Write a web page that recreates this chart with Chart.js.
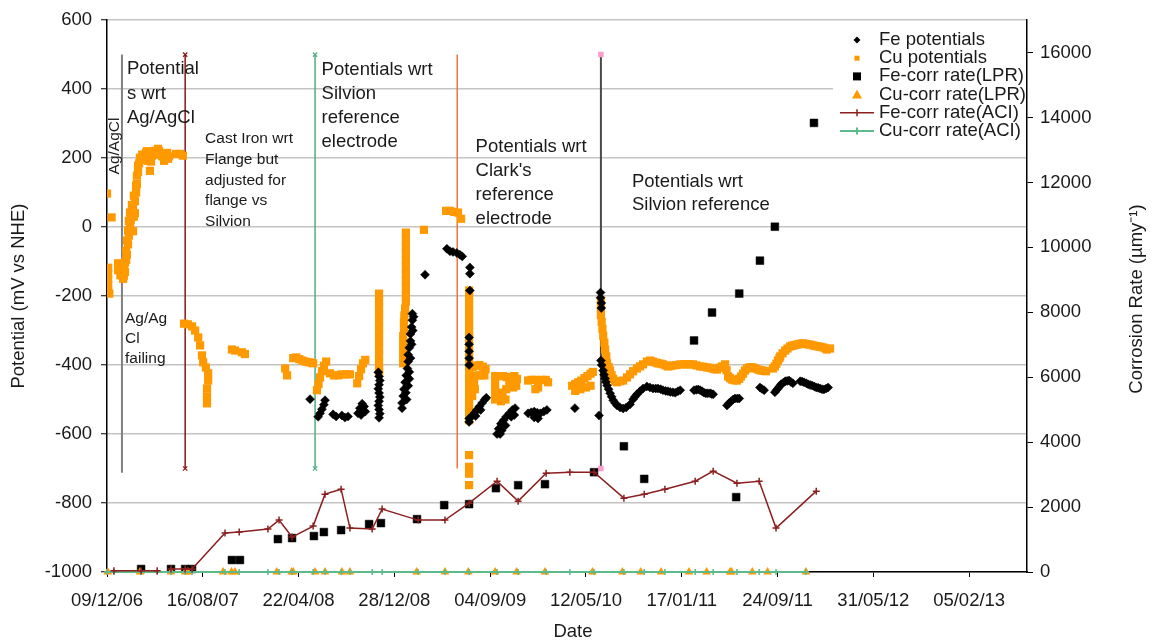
<!DOCTYPE html>
<html>
<head>
<meta charset="utf-8">
<title>Potentials and corrosion rates</title>
<script src="https://cdn.jsdelivr.net/npm/chart.js@4.4.0/dist/chart.umd.min.js"></script>
<style>
  html, body { margin: 0; padding: 0; background: #fff; }
  #wrap { width: 1155px; height: 644px; }
</style>
</head>
<body>
<div id="wrap"><canvas id="myChart" width="1155" height="644"></canvas></div>
<script>
// dia 0 = 09/12/2006, todos los valores x son dias desde esa fecha
const startDate = Date.UTC(2006, 11, 9);
const xTickDays = [0, 250, 500, 750, 1000, 1250, 1500, 1750, 2000, 2250];
const rightTicks = [0, 2000, 4000, 6000, 8000, 10000, 12000, 14000, 16000];

// Fe potentials (mV vs NHE)
const fePotential = [
  [530, -499],
  [569, -502], [566, -515], [561, -528], [556, -540], [551, -550],
  [590, -543], [598, -549], [613, -546], [621, -552], [629, -549],
  [655, -540], [660, -525], [666, -512], [671, -520], [674, -535], [663, -545],
  [708, -421], [710, -433], [712, -445], [710, -457], [708, -469], [710, -481], [712, -493],
  [710, -505], [708, -517], [710, -529], [712, -541], [710, -553],
  [797, -251], [797, -270], [795, -290], [792, -310], [792, -330], [789, -350], [786, -370], [786, -390],
  [784, -410], [781, -430], [778, -450], [775, -470], [773, -490], [770, -510], [770, -525],
  [800, -260], [798, -300], [795, -340], [792, -380], [789, -420], [786, -460], [782, -500],
  [780, -480], [784, -460], [789, -440],
  [830, -138],
  [887, -63], [895, -70], [903, -72], [913, -75], [921, -80], [927, -85],
  [947, -117], [947, -135], [947, -184], [945, -320], [945, -340], [945, -360], [945, -380], [945, -400],
  [951, -550], [958, -540], [965, -530], [972, -520], [979, -510], [986, -500], [990, -495],
  [962, -548], [975, -530], [945, -555], [945, -565],
  [1065, -525], [1058, -530], [1050, -540], [1042, -550], [1035, -560], [1028, -570], [1022, -585],
  [1018, -600], [1026, -600], [1040, -575], [1055, -550], [1030, -590], [1063, -545],
  [1099, -540], [1107, -537], [1115, -535], [1123, -538], [1131, -540], [1140, -535], [1148, -530],
  [1115, -552], [1125, -555],
  [1221, -525], [1284, -546],
  [1288, -190], [1288, -205], [1290, -220], [1290, -235],
  [1289, -387], [1291, -400], [1295, -416], [1297, -428], [1300, -439], [1302, -449], [1305, -459],
  [1309, -470], [1313, -482], [1317, -492], [1321, -502], [1326, -510], [1331, -517], [1339, -523],
  [1347, -526], [1355, -523], [1365, -514], [1373, -499], [1378, -492], [1383, -485], [1391, -476],
  [1399, -468], [1409, -462], [1417, -465], [1425, -468], [1432, -468], [1438, -468], [1445, -470],
  [1451, -473], [1458, -475], [1464, -476], [1470, -478], [1477, -479], [1483, -480], [1490, -476],
  [1496, -473],
  [1532, -473], [1538, -472], [1543, -471], [1548, -473], [1553, -476], [1558, -480], [1563, -482],
  [1568, -482], [1574, -482], [1578, -484], [1582, -485],
  [1618, -517], [1623, -511], [1629, -505], [1634, -500], [1639, -497], [1645, -497], [1650, -497],
  [1704, -465], [1709, -469], [1715, -473],
  [1743, -479], [1747, -473], [1751, -468], [1755, -462], [1759, -456], [1765, -451], [1770, -447],
  [1775, -446], [1780, -445], [1785, -449], [1790, -453],
  [1809, -447], [1814, -448], [1819, -450], [1825, -453], [1830, -456], [1835, -458], [1840, -459],
  [1846, -462], [1851, -465], [1856, -466], [1861, -468], [1866, -470], [1871, -471], [1877, -468],
  [1882, -465]
];

// Cu potentials (mV vs NHE)
const cuPotential = [
  [0, 97], [12, 28],
  [3, -118], [3, -135], [3, -152], [3, -168], [3, -184], [6, -193],
  [29, -105], [29, -125], [35, -140], [42, -150], [44, -141], [44, -120], [47, -130],
  [47, -103], [50, -68], [50, -95], [52, -39], [52, -80], [55, -10], [55, -50], [57, 18], [57, -25],
  [60, 42], [60, -5], [62, 20], [65, 64], [65, 45], [68, 60], [70, 91], [70, 30], [73, 75],
  [76, 120], [76, 100], [78, 149], [78, 125], [81, 178], [81, 160], [84, 185], [86, 201], [88, 195],
  [92, 210], [94, 201], [97, 205], [100, 195], [102, 215], [104, 220], [107, 192], [110, 210],
  [112, 163], [115, 190], [117, 207], [120, 215], [125, 221], [128, 210], [133, 227], [136, 220],
  [141, 212], [144, 205], [149, 192], [152, 200], [154, 212], [157, 215], [159, 198], [162, 205],
  [60, 10], [65, 30], [68, -12], [73, 40],
  [180, 212], [191, 212], [198, 207],
  [201, -280], [211, -282], [222, -288], [230, -300], [238, -320], [243, -343], [248, -372],
  [251, -392], [258, -407], [264, -424], [264, -445], [261, -468], [261, -491], [261, -511],
  [326, -355], [334, -358], [352, -363], [360, -368],
  [465, -410], [470, -430],
  [486, -380], [494, -378], [502, -383], [510, -387], [518, -390], [526, -392], [534, -393], [538, -395],
  [548, -473], [552, -455], [556, -436], [561, -418], [566, -402], [572, -390],
  [582, -424], [592, -430], [603, -430], [613, -427], [624, -427], [634, -427],
  [653, -453], [658, -432], [663, -412], [668, -395], [674, -385],
  [710, -193], [710, -213], [710, -233], [710, -253], [710, -273], [710, -293], [710, -313],
  [710, -333], [710, -353], [710, -373], [710, -393], [710, -413], [710, -421],
  [780, -16], [780, -36], [780, -56], [780, -76], [780, -96], [780, -116], [780, -136], [780, -156],
  [780, -176], [780, -196], [780, -216], [778, -236], [776, -256], [775, -276], [775, -296],
  [773, -316], [773, -336], [773, -356], [773, -376], [773, -395],
  [827, -8],
  [885, 47], [895, 47], [906, 44], [916, 42], [924, 24],
  [945, -184], [945, -204], [945, -224], [945, -244], [945, -264], [945, -284], [945, -304],
  [945, -324], [945, -344], [945, -364], [945, -384], [945, -404], [945, -424], [945, -444],
  [945, -464], [945, -484], [945, -504], [945, -524], [945, -544], [945, -560],
  [945, -661], [945, -695], [945, -715], [945, -748],
  [955, -405], [963, -402], [972, -400], [981, -405], [988, -412], [985, -430], [975, -430],
  [965, -430], [958, -450], [960, -470], [953, -490],
  [1013, -432], [1023, -432], [1033, -432], [1043, -435], [1053, -435], [1063, -432], [1070, -440],
  [1068, -460], [1060, -465], [1013, -455], [1013, -478], [1013, -500], [1022, -490], [1032, -480],
  [1042, -470], [1050, -455], [1028, -505], [1040, -500],
  [1099, -445], [1108, -443], [1117, -443], [1126, -445], [1135, -443], [1145, -443], [1151, -450],
  [1125, -465], [1118, -470],
  [1214, -460], [1222, -455], [1230, -450], [1238, -445], [1246, -438], [1254, -432], [1262, -425],
  [1268, -420], [1222, -475], [1235, -470], [1250, -465], [1262, -460],
  [1289, -213], [1289, -235], [1289, -255], [1291, -275], [1293, -295], [1295, -315], [1298, -335],
  [1300, -355], [1303, -375],
  [1305, -395], [1309, -406], [1313, -416], [1317, -430], [1321, -440], [1326, -447], [1331, -450],
  [1339, -447], [1347, -445], [1357, -436], [1365, -427], [1373, -418], [1383, -410], [1391, -404],
  [1399, -398], [1409, -390], [1417, -387], [1425, -390], [1432, -393], [1438, -395], [1445, -396],
  [1451, -398], [1458, -401], [1464, -404], [1470, -403], [1477, -401], [1486, -400], [1496, -398],
  [1505, -398], [1514, -398], [1522, -398], [1529, -398], [1538, -401], [1548, -404], [1557, -405],
  [1566, -407], [1573, -408], [1579, -410], [1586, -412], [1592, -413], [1599, -408], [1605, -404],
  [1613, -398], [1617, -415], [1621, -433], [1626, -438], [1631, -442], [1637, -444], [1644, -445],
  [1650, -440], [1655, -433], [1660, -425], [1665, -416], [1670, -410], [1676, -407], [1681, -407],
  [1686, -407], [1692, -410], [1699, -413], [1705, -415], [1710, -416], [1715, -417], [1720, -418],
  [1738, -410], [1743, -404], [1747, -396], [1751, -387], [1755, -380], [1757, -375], [1763, -366],
  [1770, -358], [1776, -352], [1783, -346], [1788, -344], [1793, -343], [1799, -341], [1804, -340],
  [1810, -338], [1817, -337], [1823, -339], [1830, -340], [1836, -341], [1843, -343], [1849, -345],
  [1856, -346], [1862, -347], [1869, -349], [1875, -352], [1879, -355], [1887, -352]
];

// corrosion rates (umy-1)
const feLPR = [
  [89, 92], [167, 92], [204, 92], [222, 92], [326, 369], [347, 369], [446, 1014], [483, 1045],
  [540, 1107], [566, 1230], [611, 1291], [684, 1476], [715, 1506], [809, 1629], [880, 2060],
  [945, 2090], [1015, 2582], [1073, 2674], [1143, 2705], [1271, 3074], [1349, 3873], [1402, 2868],
  [1532, 7132], [1579, 7992], [1642, 2306], [1650, 8576], [1704, 9591], [1743, 10636], [1845, 13833]
];
const cuLPRDays = [2, 86, 167, 204, 211, 303, 325, 334, 443, 482, 486, 543, 569, 613, 634, 808, 882,
  943, 1013, 1069, 1143, 1267, 1345, 1393, 1446, 1519, 1565, 1626, 1630, 1684, 1724, 1824];
const feACI = [
  [18, 40], [89, 40], [131, 40], null, [167, 90], [204, 90], [222, 90], [308, 1199], [345, 1230],
  [420, 1322], [449, 1598], [483, 1076], [538, 1414], [569, 2398], [611, 2551], [634, 1353],
  [692, 1322], [718, 1937], [812, 1598], [882, 1598], [945, 2121], [1018, 2797], [1073, 2183],
  [1146, 3043], [1208, 3074], [1271, 3074], [1349, 2275], [1402, 2398], [1456, 2551], [1535, 2797],
  [1582, 3105], [1644, 2736], [1702, 2797], [1746, 1353], [1851, 2490]
];
const cuACIDays = [0, 18, 89, 131, 167, 204, 222, 308, 345, 420, 449, 483, 538, 569, 611, 634, 692,
  718, 812, 882, 945, 1018, 1073, 1146, 1208, 1271, 1349, 1402, 1456, 1535, 1582, 1644, 1702, 1746, 1824];

// cambios de electrodo de referencia (lineas verticales, mV)
const refLines = [
  { day: 39, top: 500, bottom: -712 },
  { day: 204, top: 500, bottom: -700 },
  { day: 543, top: 500, bottom: -700 },
  { day: 914, top: 500, bottom: -700 },
  { day: 1289, top: 500, bottom: -700 }
];
const refStyles = [
  { color: '#808080', width: 2, point: false, pcolor: null },
  { color: '#8b1515', width: 1.5, point: 'crossRot', pcolor: '#8b1515' },
  { color: '#4fae7e', width: 1.5, point: 'crossRot', pcolor: '#4fae7e' },
  { color: '#f2733c', width: 1.5, point: false, pcolor: null },
  { color: '#4a4a4a', width: 2, point: 'rect', pcolor: '#ff9ccc' }
];

const FONT = '"Liberation Sans", Arial, sans-serif';

// notas de texto, posicion en unidades de datos (dia, mV)
const notes = [
  { day: 52, mV: 458, size: 18.5, gap: 24.5, lines: ['Potential', 's wrt', 'Ag/AgCl'] },
  { day: 256, mV: 255, size: 15.5, gap: 20.6, lines: ['Cast Iron wrt', 'Flange but', 'adjusted for', 'flange vs', 'Silvion'] },
  { day: 560, mV: 457, size: 18.5, gap: 24, lines: ['Potentials wrt', 'Silvion', 'reference', 'electrode'] },
  { day: 962, mV: 233, size: 18.5, gap: 24, lines: ['Potentials wrt', "Clark's", 'reference', 'electrode'] },
  { day: 1370, mV: 132, size: 18.5, gap: 23.5, lines: ['Potentials wrt', 'Silvion reference'] },
  { day: 47, mV: -266, size: 15.5, gap: 20, lines: ['Ag/Ag', 'Cl', 'failing'] }
];

const legendLabels = ['Fe potentials', 'Cu potentials', 'Fe-corr rate(LPR)', 'Cu-corr rate(LPR)',
  'Fe-corr rate(ACI)', 'Cu-corr rate(ACI)'];

function pts(arr) {
  return arr.map(p => p ? { x: p[0], y: p[1] } : { x: null, y: null });
}

function dateLabel(day) {
  const d = new Date(startDate + day * 86400000);
  const dd = String(d.getUTCDate()).padStart(2, '0');
  const mm = String(d.getUTCMonth() + 1).padStart(2, '0');
  const yy = String(d.getUTCFullYear() % 100).padStart(2, '0');
  return dd + '/' + mm + '/' + yy;
}

const chartNotes = {
  id: 'chartNotes',
  afterDatasetsDraw(chart) {
    const { ctx } = chart;
    const x = chart.scales.x, y = chart.scales.y;
    ctx.save();
    ctx.fillStyle = '#1a1a1a';
    ctx.textBaseline = 'middle';
    ctx.textAlign = 'left';
    notes.forEach(n => {
      const px = x.getPixelForValue(n.day);
      const py = y.getPixelForValue(n.mV);
      ctx.font = n.size + 'px ' + FONT;
      n.lines.forEach((t, i) => ctx.fillText(t, px, py + i * n.gap));
    });
    // texto vertical junto a la primera linea
    ctx.translate(x.getPixelForValue(21), y.getPixelForValue(235));
    ctx.rotate(-Math.PI / 2);
    ctx.textAlign = 'center';
    ctx.font = '15.5px ' + FONT;
    ctx.fillText('Ag/AgCl', 0, 0);
    ctx.restore();
  }
};

const chartLegend = {
  id: 'chartLegend',
  afterDraw(chart) {
    const { ctx } = chart;
    const sx = 857, tx = 879, y0 = 40, dy = 18.2;
    ctx.save();
    ctx.fillStyle = '#fff';
    ctx.fillRect(833, 28, 193, 118);
    legendLabels.forEach((label, i) => {
      const cy = y0 + i * dy;
      ctx.beginPath();
      if (i === 0) {
        ctx.fillStyle = '#000';
        ctx.moveTo(sx - 3.5, cy); ctx.lineTo(sx, cy - 3.5); ctx.lineTo(sx + 3.5, cy); ctx.lineTo(sx, cy + 3.5);
        ctx.closePath(); ctx.fill();
      } else if (i === 1) {
        ctx.fillStyle = '#ff9900';
        ctx.fillRect(sx - 2.5, cy - 2.5, 5, 5);
      } else if (i === 2) {
        ctx.fillStyle = '#000';
        ctx.fillRect(sx - 4, cy - 4, 8, 8);
      } else if (i === 3) {
        ctx.fillStyle = '#ff9900';
        ctx.moveTo(sx, cy - 5); ctx.lineTo(sx + 5, cy + 4); ctx.lineTo(sx - 5, cy + 4);
        ctx.closePath(); ctx.fill();
      } else {
        ctx.strokeStyle = i === 4 ? '#8b1f1f' : '#5cba8c';
        ctx.lineWidth = i === 4 ? 1.5 : 2;
        ctx.moveTo(840, cy); ctx.lineTo(874, cy);
        ctx.moveTo(sx, cy - 3.5); ctx.lineTo(sx, cy + 3.5);
        ctx.stroke();
      }
      ctx.fillStyle = '#1a1a1a';
      ctx.font = '18.5px ' + FONT;
      ctx.textBaseline = 'middle';
      ctx.textAlign = 'left';
      ctx.fillText(label, tx, cy);
    });
    ctx.restore();
  }
};

const axisTitles = {
  id: 'axisTitles',
  afterDraw(chart) {
    const { ctx, chartArea } = chart;
    const midY = (chartArea.top + chartArea.bottom) / 2;
    ctx.save();
    ctx.fillStyle = '#1a1a1a';
    ctx.font = '18.5px ' + FONT;
    ctx.textAlign = 'center';
    ctx.textBaseline = 'middle';
    ctx.fillText('Date', 573, 632);
    ctx.save();
    ctx.translate(19, midY);
    ctx.rotate(-Math.PI / 2);
    ctx.fillText('Potential (mV vs NHE)', 0, 0);
    ctx.restore();
    ctx.translate(1137, midY + 3);
    ctx.rotate(-Math.PI / 2);
    ctx.fillText('Corrosion Rate (\u00b5my\u207b\u00b9)', 0, 0);
    ctx.restore();
  }
};

const datasets = [
  {
    label: 'Fe-corr rate(ACI)', data: pts(feACI), yAxisID: 'y1', showLine: true, spanGaps: false,
    borderColor: '#8b1f1f', borderWidth: 1.5, pointStyle: 'cross', pointRadius: 3.5,
    pointBorderColor: '#8b1f1f', pointBorderWidth: 1.5, order: 1, clip: false
  },
  {
    label: 'Cu-corr rate(ACI)', data: cuACIDays.map(d => ({ x: d, y: 0 })), yAxisID: 'y1', showLine: true,
    borderColor: '#5cba8c', borderWidth: 2, pointStyle: 'cross', pointRadius: 3,
    pointBorderColor: '#5cba8c', pointBorderWidth: 1.5, order: 2, clip: false
  },
  {
    label: 'Cu-corr rate(LPR)', data: cuLPRDays.map(d => ({ x: d, y: 0 })), yAxisID: 'y1',
    pointStyle: 'triangle', pointRadius: 5, backgroundColor: '#ff9900', borderColor: '#ff9900',
    pointBorderWidth: 0, order: 3, clip: false
  },
  {
    label: 'Fe-corr rate(LPR)', data: pts(feLPR), yAxisID: 'y1',
    pointStyle: 'rect', pointRadius: 5.5, backgroundColor: '#000', borderColor: '#000',
    pointBorderWidth: 0.5, order: 4, clip: false
  },
  {
    label: 'Fe potentials', data: pts(fePotential), yAxisID: 'y',
    pointStyle: 'rectRot', pointRadius: 4.5, backgroundColor: '#000', borderColor: '#000',
    pointBorderWidth: 0.5, order: 5
  },
  {
    label: 'Cu potentials', data: pts(cuPotential), yAxisID: 'y',
    pointStyle: 'rect', pointRadius: 5.8, backgroundColor: '#ff9900', borderColor: '#ff9900',
    pointBorderWidth: 0, order: 6
  }
];

refLines.forEach((r, i) => {
  const st = refStyles[i];
  datasets.push({
    label: 'ref' + i,
    data: [{ x: r.day, y: r.top }, { x: r.day, y: r.bottom }],
    yAxisID: 'y', showLine: true,
    borderColor: st.color, borderWidth: st.width,
    pointStyle: st.point || 'circle', pointRadius: st.point ? 3 : 0,
    pointBorderColor: st.pcolor || st.color, pointBackgroundColor: st.pcolor || st.color,
    pointBorderWidth: 1.2, order: 7 + i
  });
});

const tickFont = { family: FONT, size: 18.5 };

const ctx = document.getElementById('myChart').getContext('2d');
const myChart = new Chart(ctx, {
  type: 'scatter',
  data: { datasets: datasets },
  options: {
    responsive: false,
    animation: false,
    events: [],
    layout: { padding: { top: 19, left: 0, right: 0, bottom: 0 } },
    plugins: {
      legend: { display: false },
      tooltip: { enabled: false }
    },
    scales: {
      x: {
        type: 'linear', min: 0, max: 2401,
        afterBuildTicks: s => { s.ticks = xTickDays.map(v => ({ value: v })); },
        afterFit: s => { s.height = 72; },
        ticks: { callback: v => dateLabel(v), font: tickFont, color: '#1a1a1a', maxRotation: 0, autoSkip: false, padding: 13 },
        grid: { drawOnChartArea: false, tickLength: 5, tickColor: '#000', tickWidth: 1 },
        border: { color: '#000', width: 1.5 }
      },
      y: {
        position: 'left', min: -1000, max: 600,
        ticks: { stepSize: 200, font: tickFont, color: '#1a1a1a', padding: 9, callback: v => String(v) },
        afterFit: s => { s.width = 107; },
        grid: { color: '#c4c4c4', lineWidth: 1.5, tickColor: '#000', tickLength: 6, tickWidth: 1 },
        border: { color: '#000', width: 1.5 }
      },
      y1: {
        position: 'right', min: 0, max: 17000,
        afterBuildTicks: s => { s.ticks = rightTicks.map(v => ({ value: v })); },
        afterFit: s => { s.width = 128; },
        ticks: { font: tickFont, color: '#1a1a1a', padding: 7, callback: v => String(v) },
        grid: { drawOnChartArea: false, tickColor: '#000', tickLength: 6, tickWidth: 1 },
        border: { color: '#000', width: 1.5 }
      }
    }
  },
  plugins: [chartNotes, chartLegend, axisTitles]
});
</script>
</body>
</html>
